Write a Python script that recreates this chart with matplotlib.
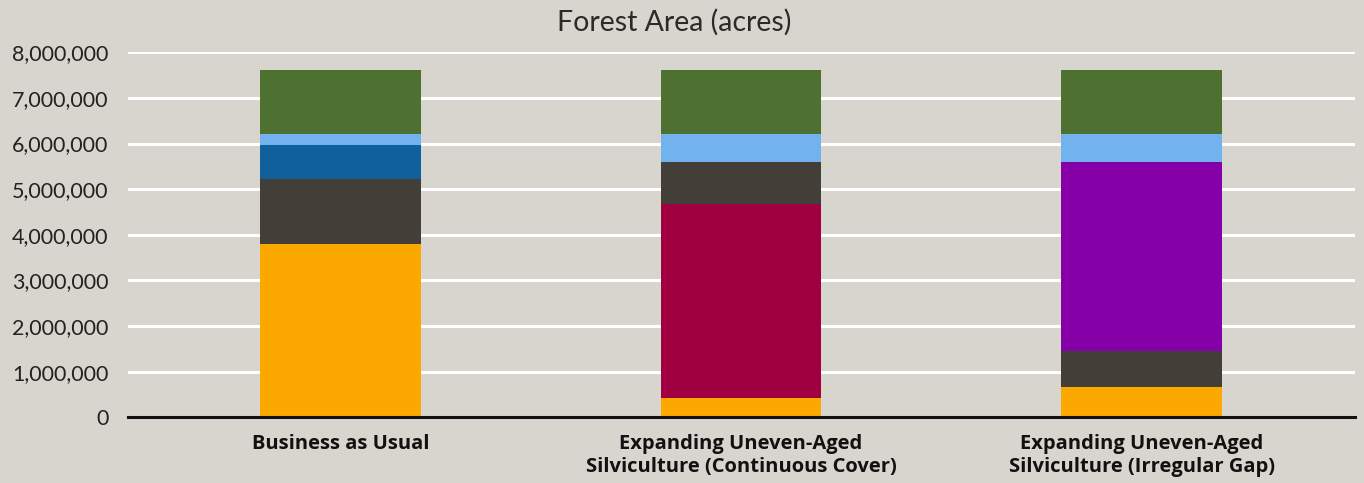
import numpy as np
import matplotlib
matplotlib.use("Agg")
import matplotlib.pyplot as plt

# --- data -------------------------------------------------------------
scenarios = ["Business as Usual",
             "Expanding Uneven-Aged\nSilviculture (Continuous Cover)",
             "Expanding Uneven-Aged\nSilviculture (Irregular Gap)"]

# stacked from bottom to top (acres)
even_aged      = [3800000, 420000, 660000]
other_low      = [0, 0, 790000]
continuous     = [0, 4250000, 0]
irregular_gap  = [0, 0, 4150000]
other          = [1420000, 920000, 0]
plantation     = [740000, 0, 0]
reserve        = [250000, 620000, 610000]
woodland       = [1410000, 1410000, 1410000]

series = [even_aged, other_low, continuous, irregular_gap, other,
          plantation, reserve, woodland]
colors = ["#FBA900", "#433F38", "#A0003F", "#8500A6", "#433F38",
          "#11609E", "#72B2EE", "#4E7132"]

bg = "#D8D5CF"

# --- figure -----------------------------------------------------------
fig = plt.figure(figsize=(13.64, 4.83), dpi=100, facecolor=bg)
ax = fig.add_axes([0.0938, 0.136, 0.8996, 0.7557], facecolor=bg)

x = np.arange(len(scenarios))
bottom = np.zeros(len(scenarios))
for vals, c in zip(series, colors):
    ax.bar(x, vals, width=0.40, bottom=bottom, color=c, zorder=3)
    bottom += np.array(vals)

ax.set_ylim(0, 8000000)
ax.set_xlim(-0.5306, 2.533)
ax.set_yticks(np.arange(0, 8000001, 1000000))
ax.yaxis.set_major_formatter(matplotlib.ticker.FuncFormatter(lambda v, p: f"{int(v):,}"))
ax.grid(axis="y", color="white", lw=2.2, zorder=0)
ax.set_axisbelow(True)

for s in ["top", "right", "left"]:
    ax.spines[s].set_visible(False)
ax.spines["bottom"].set_color("#111111")
ax.spines["bottom"].set_linewidth(2.2)
ax.spines["bottom"].set_zorder(4)

ax.tick_params(axis="y", length=0, pad=14, labelsize=15.5, labelcolor="#222222")
ax.tick_params(axis="x", length=0, pad=12)
ax.set_xticks(x)
ax.set_xticklabels(scenarios, fontsize=14.5, fontweight="bold", color="#111111",
                   linespacing=1.2, family="Open Sans")
for lab in ax.get_yticklabels():
    lab.set_family("Lato")

fig.text(674 / 1364, 1 - 22 / 483, "Forest Area (acres)", ha="center", va="center",
         fontsize=20.5, color="#2a2a2a", family="Lato")

fig.savefig("out.png", dpi=100, facecolor=bg)
